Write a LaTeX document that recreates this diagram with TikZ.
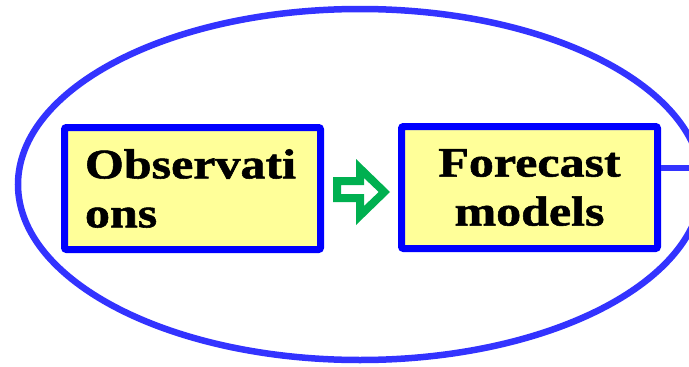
\documentclass[tikz,border=0pt]{standalone}
\usepackage{fontspec}
\newfontfamily\boxfont[FakeStretch=1.19, FakeBold=1.3]{Liberation Serif}
\definecolor{loopblue}{RGB}{51,51,255}
\definecolor{boxblue}{RGB}{0,0,255}
\definecolor{boxfill}{RGB}{255,255,153}
\definecolor{arrowgreen}{RGB}{0,176,80}
\tikzset{
  stagebox/.style={draw=boxblue, fill=boxfill, line width=7pt, rounded corners=2pt,
    minimum width=256pt, minimum height=122pt, inner xsep=20.5pt,
    font=\boxfont\bfseries\fontsize{42}{49}\selectfont},
  loopline/.style={draw=loopblue, line width=6.5pt},
  link/.style={draw=loopblue, line width=6pt}
}
\begin{document}
\begin{tikzpicture}[x=1pt, y=-1pt]
  \clip (0,0) rectangle (689,367);
  \fill[white] (0,0) rectangle (689,367);

  % outer cycle
  \draw[loopline] (360,184.5) ellipse [x radius=342, y radius=175.5];
  \coordinate (loopEnd) at (703,168);

  % stages
  \node[stagebox, align=left, text width=215pt] (obs) at (192.5,188.5) {Observati\\ons};
  \node[stagebox, align=center] (fc) at (529.5,187.5) {Forecast\\models};

  % hollow block arrow between the stages
  \fill[arrowgreen, even odd rule]
    (333,177) -- (356,177) -- (356,159) -- (390,192) -- (356,225) -- (356,202) -- (333,202) -- cycle
    (341,185) -- (364,185) -- (364,178) -- (378.7,192) -- (364,206) -- (364,194) -- (341,194) -- cycle;

  % link from the forecast stage to the cycle
  \draw[link] ([yshift=19.5pt]fc.east) -- (loopEnd);
\end{tikzpicture}
\end{document}
